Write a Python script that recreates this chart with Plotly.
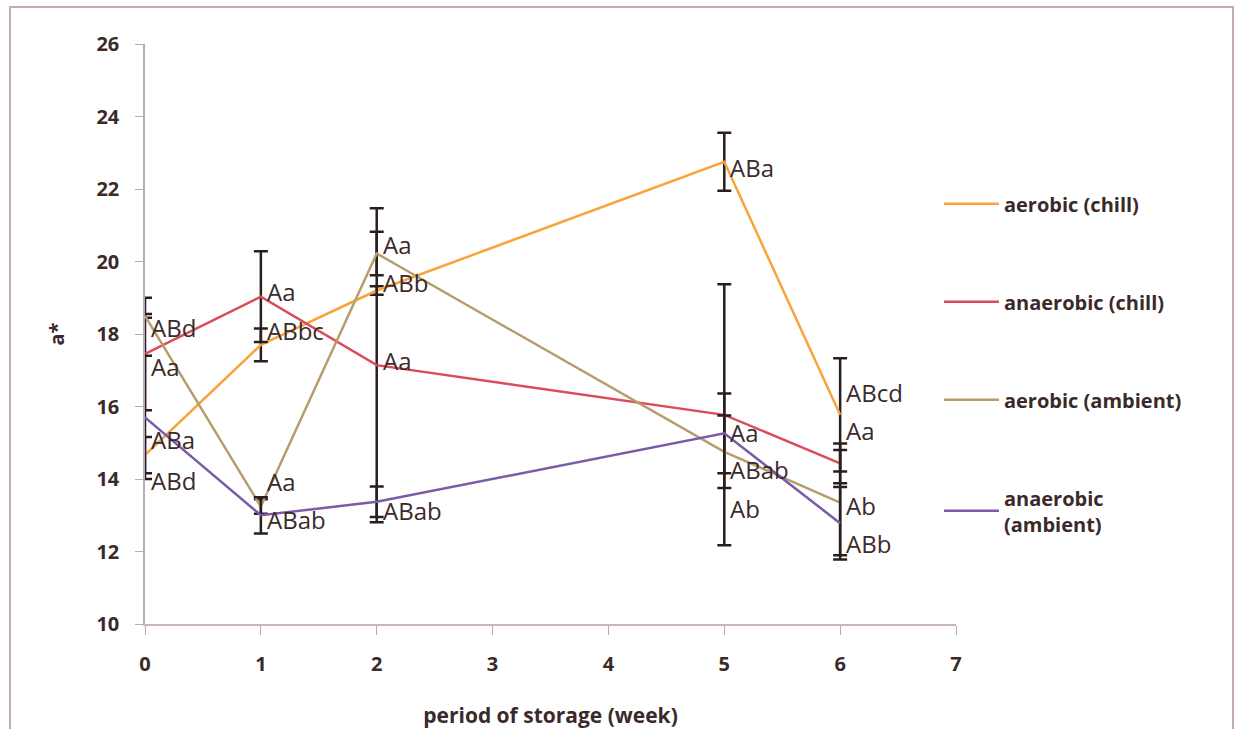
import plotly.graph_objects as go

weeks = [0, 1, 2, 5, 6]
series_names = ["aerobic (chill)", "anaerobic (chill)", "aerobic (ambient)", "anaerobic<br>(ambient)"]
colors = ["#F9A43A", "#DC4C58", "#B59E6C", "#7B5AA8"]

aerobic_chill = [14.66, 17.7, 19.2, 22.75, 15.77]
anaerobic_chill = [17.45, 19.03, 17.14, 15.77, 14.43]
aerobic_ambient = [18.5, 13.24, 20.22, 14.75, 13.35]
anaerobic_ambient = [15.7, 13.0, 13.37, 15.26, 12.78]

err_aerobic_chill = [0.5, 0.45, 0.12, 0.8, 1.56]
err_anaerobic_chill = [1.55, 1.25, 4.33, 3.6, 0.55]
err_aerobic_ambient = [0.05, 0.2, 0.6, 1.0, 1.45]
err_anaerobic_ambient = [1.7, 0.5, 0.42, 1.1, 1.0]

values = [aerobic_chill, anaerobic_chill, aerobic_ambient, anaerobic_ambient]
errors = [err_aerobic_chill, err_anaerobic_chill, err_aerobic_ambient, err_anaerobic_ambient]

# letter labels: (week, y position, text)
label_weeks = [0, 0, 0, 0, 1, 1, 1, 1, 2, 2, 2, 2, 5, 5, 5, 5, 6, 6, 6, 6]
label_y = [18.17, 17.09, 15.08, 13.97, 19.16, 18.11, 13.92, 12.87,
           20.46, 19.41, 17.28, 13.14, 22.58, 15.27, 14.25, 13.2,
           16.4, 15.35, 13.28, 12.23]
label_text = ["ABd", "Aa", "ABa", "ABd", "Aa", "ABbc", "Aa", "ABab",
              "Aa", "ABb", "Aa", "ABab", "ABa", "Aa", "ABab", "Ab",
              "ABcd", "Aa", "Ab", "ABb"]

y_ticks = [10, 12, 14, 16, 18, 20, 22, 24, 26]
x_ticks = [0, 1, 2, 3, 4, 5, 6, 7]

TXT = "#3A2A2A"
FONT = "Open Sans"

fig = go.Figure()
for i, (name, col, v, e) in enumerate(zip(series_names, colors, values, errors)):
    fig.add_trace(go.Scatter(
        x=weeks, y=v, mode="lines", name=name, legendgroup=str(i),
        line=dict(color=col, width=2.5),
        error_y=dict(type="data", array=e, visible=True, color="#2B1E1E", thickness=2.5, width=7),
    ))

for wx, wy, t in zip(label_weeks, label_y, label_text):
    fig.add_annotation(x=wx, y=wy, text=t, showarrow=False, xanchor="left", yanchor="middle",
                       xshift=4, font=dict(family=FONT, size=24, color=TXT, weight=500))

# outer frame
fig.add_shape(type="rect", xref="paper", yref="paper", x0=-0.1665, x1=1.3416, y0=-0.3, y1=1.0638,
              line=dict(color="#C5A8B5", width=2), fillcolor="rgba(0,0,0,0)", layer="below")

fig.update_layout(
    width=1241, height=729,
    margin=dict(l=145, r=285, t=44, b=105),
    paper_bgcolor="white", plot_bgcolor="white",
    showlegend=True,
    legend=dict(x=0.979, xanchor="left", y=0.758, yanchor="top", traceorder="grouped",
                font=dict(family=FONT, size=20, color=TXT, weight="bold"),
                tracegroupgap=69, itemwidth=55, bgcolor="rgba(0,0,0,0)"),
    xaxis=dict(range=[0, 7], tickvals=x_ticks, ticks="outside", ticklen=9, tickcolor="#B8A8B8",
               showline=True, linecolor="#C8B4C0", linewidth=1.5, showgrid=False, zeroline=False,
               tickfont=dict(family=FONT, size=20, color=TXT, weight="bold"),
               ticklabelstandoff=12, automargin=False,
               title=dict(text="period of storage (week)", standoff=34,
                          font=dict(family=FONT, size=21, color=TXT, weight="bold"))),
    yaxis=dict(range=[10, 26], tickvals=y_ticks, ticks="outside", ticklen=8, tickcolor="#B8A8B8",
               showline=True, linecolor="#B8A8C4", linewidth=1.5, showgrid=False, zeroline=False,
               tickfont=dict(family=FONT, size=20, color=TXT, weight="bold"),
               ticklabelstandoff=12, automargin=False,
               title=dict(text="a*", standoff=26,
                          font=dict(family=FONT, size=20, color=TXT, weight="bold"))),
)

fig.write_html("out.html")
